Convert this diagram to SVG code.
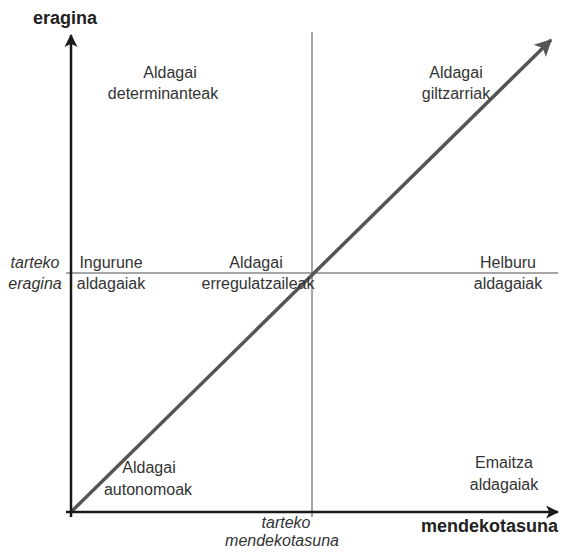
<svg xmlns="http://www.w3.org/2000/svg" width="563" height="552" viewBox="0 0 563 552">
<defs>
<marker id="ah" viewBox="0 0 12 12" refX="11" refY="6" markerWidth="13" markerHeight="13" markerUnits="userSpaceOnUse" orient="auto">
<path d="M0,0 L12,6 L0,12 L3,6 Z" fill="#1a1a1a"/>
</marker>
<marker id="ahg" viewBox="0 0 12 12" refX="11" refY="6" markerWidth="17" markerHeight="17" markerUnits="userSpaceOnUse" orient="auto">
<path d="M0,0 L12,6 L0,12 L3,6 Z" fill="#555"/>
</marker>
<style>
.lbl{font-family:"Liberation Sans",Arial,sans-serif;font-size:16px;fill:#333;text-anchor:middle}
.ax{font-family:"Liberation Sans",Arial,sans-serif;font-size:18px;font-weight:bold;fill:#222}
.it{font-family:"Liberation Sans",Arial,sans-serif;font-size:16px;font-style:italic;fill:#333;text-anchor:middle}
.mid{stroke:#888;stroke-width:1.5;fill:none}
.axis{stroke:#1a1a1a;stroke-width:2.5;fill:none}
</style>
</defs>
<g id="connectors">
<line class="mid" x1="312" y1="32" x2="312" y2="517"/>
<line class="mid" x1="66" y1="273" x2="558" y2="273"/>
<line x1="71" y1="512" x2="551" y2="40" stroke="#555" stroke-width="3.5" marker-end="url(#ahg)"/>
<line class="axis" x1="71" y1="517" x2="71" y2="35" marker-end="url(#ah)"/>
<line class="axis" x1="66" y1="512" x2="558" y2="512" marker-end="url(#ah)"/>
</g>
<g id="axis-y-title"><text class="ax" x="65" y="24" text-anchor="middle">eragina</text></g>
<g id="axis-x-title"><text class="ax" x="558" y="532" text-anchor="end">mendekotasuna</text></g>
<g id="tarteko-eragina"><text class="it" x="35" y="268">tarteko</text><text class="it" x="35" y="289">eragina</text></g>
<g id="tarteko-mendekotasuna"><text class="it" x="286" y="528">tarteko</text><text class="it" x="282" y="546">mendekotasuna</text></g>
<g id="determinanteak"><text class="lbl" x="170" y="78">Aldagai</text><text class="lbl" x="163" y="99">determinanteak</text></g>
<g id="giltzarriak"><text class="lbl" x="456" y="78">Aldagai</text><text class="lbl" x="456" y="99">giltzarriak</text></g>
<g id="ingurune"><text class="lbl" x="111" y="268">Ingurune</text><text class="lbl" x="111" y="289">aldagaiak</text></g>
<g id="erregulatzaileak"><text class="lbl" x="256" y="268">Aldagai</text><text class="lbl" x="258" y="289">erregulatzaileak</text></g>
<g id="helburu"><text class="lbl" x="508" y="268">Helburu</text><text class="lbl" x="508" y="289">aldagaiak</text></g>
<g id="autonomoak"><text class="lbl" x="149" y="473">Aldagai</text><text class="lbl" x="148" y="495">autonomoak</text></g>
<g id="emaitza"><text class="lbl" x="504" y="468">Emaitza</text><text class="lbl" x="504" y="490">aldagaiak</text></g>
</svg>
